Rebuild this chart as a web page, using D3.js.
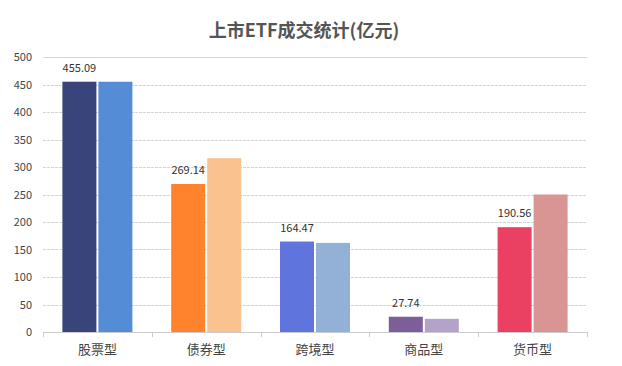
<!DOCTYPE html>
<html><head><meta charset="utf-8">
<script src="https://cdn.jsdelivr.net/npm/d3@7/dist/d3.min.js"></script>
<style>body{margin:0;background:#fff;}</style>
</head><body>
<svg id="c" width="622" height="366"></svg>
<script>
const categories = ["股票型","债券型","跨境型","商品型","货币型"];
const series1 = [455.09, 269.14, 164.47, 27.74, 190.56];
const series2 = [455, 316, 162, 24, 250];
const colors1 = ["#38447A","#FF832D","#5F74DC","#7C5E98","#EA4162"];
const colors2 = ["#548DD5","#F9C28F","#93B1D7","#B3A3C9","#D99594"];
const yTicks = [0,50,100,150,200,250,300,350,400,450,500];
const title = "上市ETF成交统计(亿元)";

const svg = d3.select("#c");
const m = {l:43, r:35, t:57, b:34};
const W = 622, H = 366;
const x = d3.scaleBand().domain(categories).range([m.l, W - m.r]);
const y = d3.scaleLinear().domain([0,500]).range([H - m.b, m.t]);
const font = "'Microsoft YaHei','Noto Sans CJK SC',sans-serif";

svg.append("text").attr("x", 304).attr("y", 37).attr("text-anchor","middle")
  .attr("font-family", font).attr("font-size", 18).attr("font-weight","bold")
  .attr("fill","#555").text(title);

// grid
svg.append("g").selectAll("line").data(yTicks.filter(d=>d>0)).join("line")
  .attr("x1", m.l).attr("x2", W - m.r)
  .attr("y1", d=>Math.round(y(d))+0.5).attr("y2", d=>Math.round(y(d))+0.5)
  .attr("stroke", "#d4d4d4").attr("stroke-width",1)
  .attr("stroke-dasharray", d=> d===500 ? null : "3,1");

// y labels
svg.append("g").selectAll("text").data(yTicks).join("text")
  .attr("x", 32).attr("y", d=>y(d)+4).attr("text-anchor","end")
  .attr("font-family", font).attr("font-size", 11).attr("fill","#444").text(d=>d);

// bars
const bw = 34, gap = 2;
const g = svg.append("g");
categories.forEach((c,i)=>{
  const cx = x(c) + x.bandwidth()/2;
  g.append("rect").attr("x", cx - gap/2 - bw).attr("width", bw)
    .attr("y", y(series1[i])).attr("height", y(0)-y(series1[i])).attr("fill", colors1[i]);
  g.append("rect").attr("x", cx + gap/2).attr("width", bw)
    .attr("y", y(series2[i])).attr("height", y(0)-y(series2[i])).attr("fill", colors2[i]);
  g.append("text").attr("x", cx - gap/2 - bw/2).attr("y", y(series1[i]) - 10)
    .attr("text-anchor","middle").attr("font-family", font).attr("font-size", 11)
    .attr("fill","#333").text(series1[i].toFixed(2));
});

// x axis
const ax = svg.append("g");
ax.append("line").attr("x1", m.l).attr("x2", W - m.r).attr("y1", y(0)+0.5).attr("y2", y(0)+0.5)
  .attr("stroke","#ccc");
const bounds = categories.map(c=>x(c)).concat([W - m.r]);
ax.selectAll("line.t").data(bounds).join("line").attr("class","t")
  .attr("x1", d=>Math.round(d)+0.5).attr("x2", d=>Math.round(d)+0.5)
  .attr("y1", y(0)).attr("y2", y(0)+5).attr("stroke","#ccc");
ax.selectAll("text").data(categories).join("text")
  .attr("x", d=>x(d)+x.bandwidth()/2).attr("y", y(0)+22).attr("text-anchor","middle")
  .attr("font-family", font).attr("font-size", 13).attr("fill","#444").text(d=>d);
</script>
</body></html>
